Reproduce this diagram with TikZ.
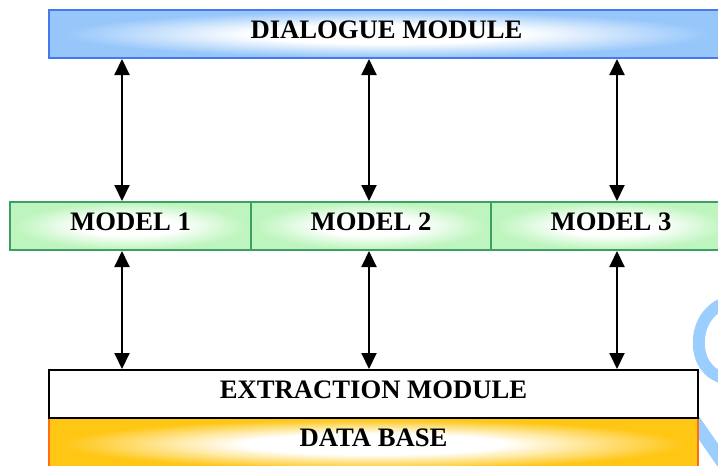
\documentclass[tikz,border=0pt]{standalone}
\usepackage{fontspec}
\setmainfont{Liberation Serif}
\usetikzlibrary{arrows.meta}

\definecolor{dlgblue}{RGB}{150,198,250}
\definecolor{dlgedge}{RGB}{70,120,240}
\definecolor{modgreen}{RGB}{190,245,190}
\definecolor{modedge}{RGB}{60,160,100}
\definecolor{dbyellow}{RGB}{255,198,20}
\definecolor{dbedge}{RGB}{255,110,20}
\definecolor{wmblue}{RGB}{155,205,255}

% soft glow: white middle, colour towards the rim
\pgfdeclareradialshading{dlgglow}{\pgfpoint{0bp}{0bp}}{color(0bp)=(white); color(10bp)=(white); color(24bp)=(dlgblue); color(50bp)=(dlgblue)}
\pgfdeclareradialshading{modglow}{\pgfpoint{0bp}{0bp}}{color(0bp)=(white); color(10bp)=(white); color(24bp)=(modgreen); color(50bp)=(modgreen)}
\pgfdeclareradialshading{dbglow}{\pgfpoint{0bp}{0bp}}{color(0bp)=(white); color(10bp)=(white); color(24bp)=(dbyellow); color(50bp)=(dbyellow)}

\tikzset{
  box/.style={rectangle, draw, line width=1.5pt, inner sep=0pt, minimum height=36pt,
    text height=21.4pt, text depth=14.6pt, font=\fontsize{20}{24}\selectfont\bfseries},
  modelbox/.style={box, draw=modedge, shade, shading=modglow},
  link/.style={{Triangle[width=11.25pt,length=12pt]}-{Triangle[width=11.25pt,length=12pt]}, line width=1.5pt}
}

\begin{document}
\begin{tikzpicture}[x=0.75pt,y=-0.75pt]
  \useasboundingbox (0,0) rectangle (718,465);
  \clip (0,0) rectangle (718,465);

  % logo in the background
  \draw[wmblue,line width=9pt] (725,303) .. controls (690,315) and (690,372) .. (725,378);
  \draw[wmblue,line width=10pt] (690,415) -- (735,480);

  \node[box, draw=dlgedge, shade, shading=dlgglow, minimum width=506.25pt] (dlg) at (386.5,34) {DIALOGUE MODULE};

  \foreach \i/\x/\w in {1/130.5/180.75pt, 2/371/180pt, 3/611/180pt}
    \node[modelbox, minimum width=\w] (m\i) at (\x,226) {MODEL \i};

  \node[box, draw=dbedge, shade, shading=dbglow, minimum width=486.75pt,
    minimum height=39pt, text depth=17.6pt] (db) at (373.5,444) {DATA BASE};
  \node[box, fill=white, minimum width=486.75pt] (ext) at (373.5,394) {EXTRACTION MODULE};

  \foreach \i/\x in {1/122,2/369,3/617} {
    \draw[link] (\x,0 |- dlg.south) -- (\x,0 |- m\i.north);
    \draw[link] (\x,0 |- m\i.south) -- (\x,0 |- ext.north);
  }
\end{tikzpicture}
\end{document}
